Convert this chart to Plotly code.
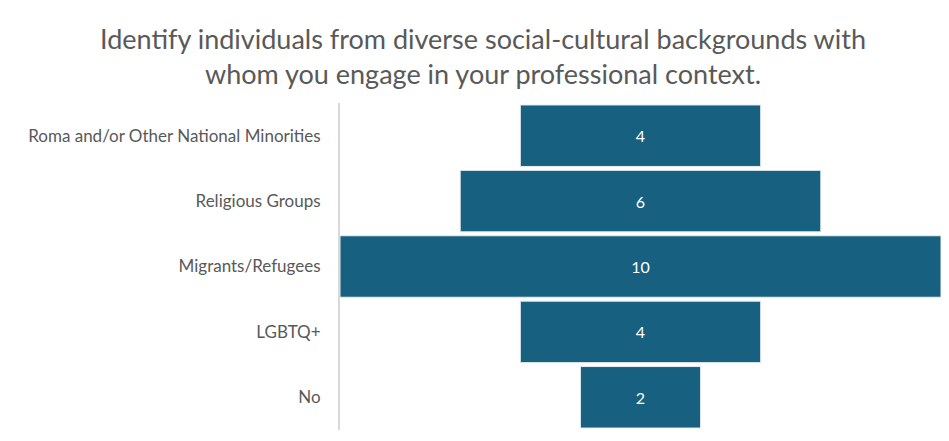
import plotly.graph_objects as go

categories = ["Roma and/or Other National Minorities", "Religious Groups",
              "Migrants/Refugees", "LGBTQ+", "No"]
counts = [4, 6, 10, 4, 2]

title_text = ("Identify individuals from diverse social-cultural backgrounds with<br>"
              "whom you engage in your professional context.")

fig = go.Figure(go.Funnel(
    y=categories,
    x=counts,
    textinfo="value",
    textposition="inside",
    insidetextanchor="middle",
    textfont=dict(color="white", size=16, family="Lato"),
    marker=dict(color="#18607f", line=dict(color="#e6eef2", width=1)),
    connector=dict(visible=False),
))

fig.update_layout(
    width=949, height=441,
    margin=dict(l=340, r=8, t=103, b=11),
    paper_bgcolor="white", plot_bgcolor="white",
    font=dict(family="Lato", color="#595959"),
    funnelgap=0.06,
    showlegend=False,
    annotations=[dict(text=title_text, xref="paper", yref="paper",
                      x=(483 - 340) / 601, y=(430 - 56) / 327,
                      xanchor="center", yanchor="middle", showarrow=False,
                      font=dict(size=27, color="#595959", family="Lato"))],
)
fig.update_xaxes(visible=False, range=[-5, 5])
fig.update_yaxes(showline=True, linecolor="#d9d9d9", linewidth=2,
                 ticks="", tickfont=dict(size=17, color="#595959"),
                 ticklabelstandoff=14, showgrid=False)

fig.write_html("out.html")
